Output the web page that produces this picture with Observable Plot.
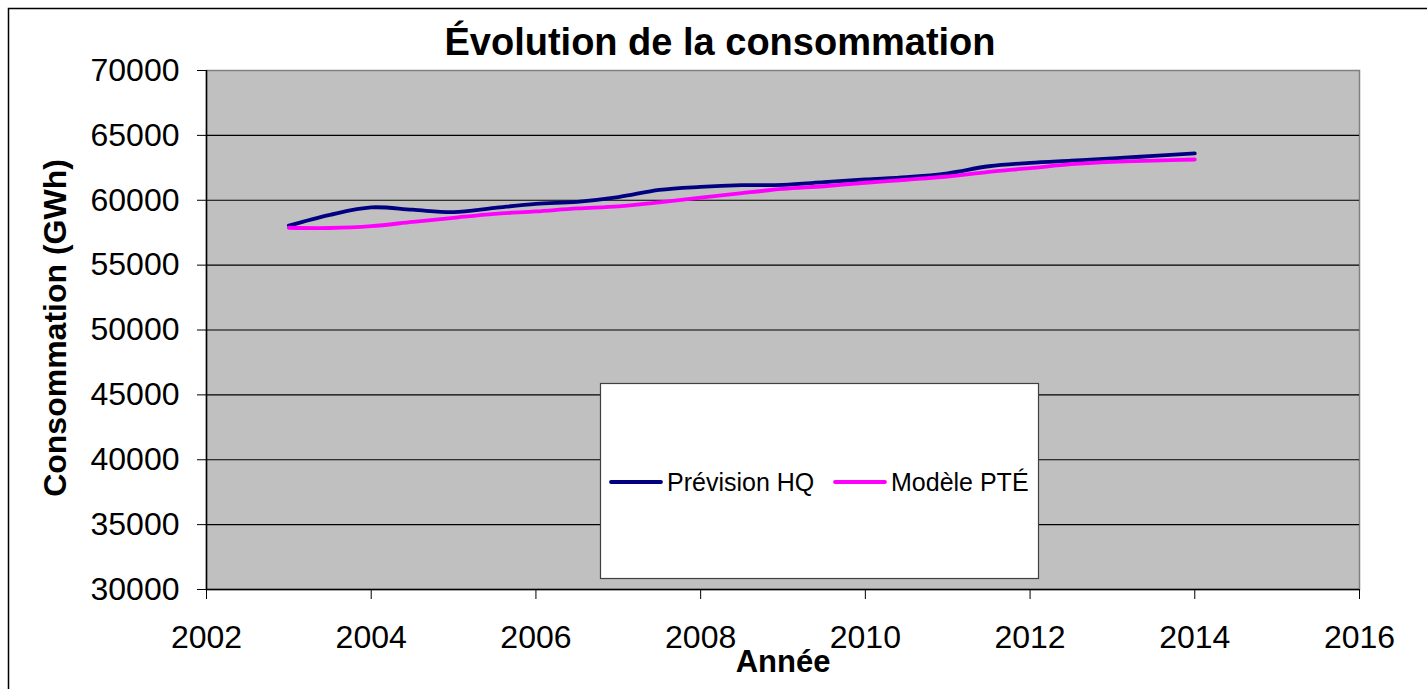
<!DOCTYPE html>
<html>
<head>
<meta charset="utf-8">
<script src="https://cdn.jsdelivr.net/npm/d3@7"></script>
<script src="https://cdn.jsdelivr.net/npm/@observablehq/plot@0.6"></script>
<style>
  body { margin: 0; background: #fff; }
  svg { display: block; }
</style>
</head>
<body>
<div id="chart"></div>
<script>
const years = [2003, 2003.5, 2004, 2004.5, 2005, 2005.5, 2006, 2006.5, 2007, 2007.5, 2008, 2008.5, 2009, 2009.5, 2010, 2010.5, 2011, 2011.5, 2012, 2012.5, 2013, 2013.5, 2014];
const previsionHQ = [58050, 58880, 59450, 59270, 59080, 59410, 59720, 59880, 60240, 60800, 61030, 61160, 61190, 61390, 61600, 61780, 62080, 62620, 62880, 63050, 63220, 63420, 63620];
const modelePTE = [57880, 57860, 58000, 58330, 58650, 58950, 59140, 59370, 59530, 59840, 60200, 60550, 60870, 61080, 61350, 61580, 61830, 62190, 62470, 62780, 62960, 63060, 63140];
const seriesNames = ["Prévision HQ", "Modèle PTÉ"];
const seriesColors = ["#000080", "#ff00ff"];
const xTicks = [2002, 2004, 2006, 2008, 2010, 2012, 2014, 2016];
const yTicks = [30000, 35000, 40000, 45000, 50000, 55000, 60000, 65000, 70000];
const gridTicks = [35000, 40000, 45000, 50000, 55000, 60000, 65000];
const title = "Évolution de la consommation";
const xLabel = "Année";
const yLabel = "Consommation (GWh)";

const data = [];
years.forEach((yr, i) => {
  data.push({year: yr, value: previsionHQ[i], series: seriesNames[0]});
  data.push({year: yr, value: modelePTE[i], series: seriesNames[1]});
});

const W = 1427, H = 689;
const plot = Plot.plot({
  width: W,
  height: H,
  marginLeft: 206,
  marginRight: 68,
  marginTop: 70,
  marginBottom: 100,
  style: {fontFamily: "'Liberation Sans', Arial, sans-serif", fontSize: "32px", color: "#000", background: "transparent"},
  x: {domain: [2002, 2016], label: null},
  y: {domain: [30000, 70000], label: null},
  color: {domain: seriesNames, range: seriesColors},
  marks: [
    Plot.frame({fill: "#c0c0c0", stroke: "#808080", strokeWidth: 1.5}),
    Plot.ruleY(gridTicks, {stroke: "#000", strokeWidth: 1.2}),
    Plot.ruleX([2002], {stroke: "#000", strokeWidth: 1.5}),
    Plot.ruleY([30000], {stroke: "#000", strokeWidth: 1.5}),
    Plot.axisY({ticks: yTicks, tickSize: 9, tickPadding: 18, tickFormat: d3.format("d"), label: null, fontSize: 32, stroke: "#000"}),
    Plot.axisX({ticks: xTicks, tickSize: 10, tickPadding: 26, tickFormat: d3.format("d"), label: null, fontSize: 32, stroke: "#000"}),
    Plot.line(data, {x: "year", y: "value", z: "series", stroke: "series", strokeWidth: 3.8, curve: "catmull-rom"})
  ]
});

const svg = d3.select(plot);
// outer chart border (left/top visible)
svg.insert("rect", ":first-child")
  .attr("x", 8.5).attr("y", 8.5).attr("width", W + 20).attr("height", H + 20)
  .attr("fill", "#fff").attr("stroke", "#000").attr("stroke-width", 1.5);

svg.append("text").attr("x", 720).attr("y", 55)
  .attr("text-anchor", "middle").attr("font-weight", "bold").attr("font-size", 38)
  .attr("fill", "#000").text(title);

svg.append("text").attr("x", 783).attr("y", 672)
  .attr("text-anchor", "middle").attr("font-weight", "bold").attr("font-size", 31)
  .attr("fill", "#000").text(xLabel);

svg.append("text").attr("transform", "translate(66,328) rotate(-90)")
  .attr("text-anchor", "middle").attr("font-weight", "bold").attr("font-size", 32)
  .attr("fill", "#000").text(yLabel);

// legend
const lg = svg.append("g");
lg.append("rect").attr("x", 600.5).attr("y", 383.5).attr("width", 438).attr("height", 195)
  .attr("fill", "#fff").attr("stroke", "#404040").attr("stroke-width", 1.2);
const legendX = [611, 835];
seriesNames.forEach((name, i) => {
  lg.append("line").attr("x1", legendX[i]).attr("x2", legendX[i] + 50)
    .attr("y1", 482).attr("y2", 482)
    .attr("stroke", seriesColors[i]).attr("stroke-width", 3.8).attr("stroke-linecap", "round");
  lg.append("text").attr("x", legendX[i] + 56).attr("y", 491)
    .attr("text-anchor", "start")
    .attr("font-size", 25).attr("fill", "#000").text(name);
});

document.getElementById("chart").appendChild(plot);
</script>
</body>
</html>
